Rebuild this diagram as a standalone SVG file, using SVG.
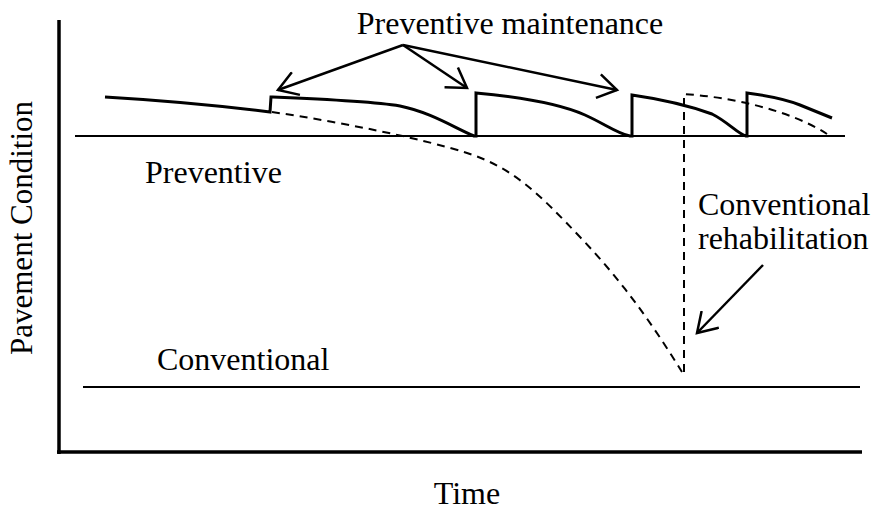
<svg xmlns="http://www.w3.org/2000/svg" width="875" height="510" viewBox="0 0 875 510">
<style>
text{font-family:"Liberation Serif","Times New Roman",serif;font-size:32px;fill:#000}
.ax{stroke:#000;stroke-width:3.5;fill:none}
.ln{stroke:#000;stroke-width:2;fill:none}
.cv{stroke:#000;stroke-width:3;fill:none;stroke-linejoin:miter}
.ds{stroke:#000;stroke-width:2;fill:none;stroke-dasharray:8,6}
.ar{stroke:#000;stroke-width:2.5;fill:none}
</style>
<defs>
<marker id="ah" viewBox="0 0 24 26" refX="21" refY="13" markerWidth="24" markerHeight="26" markerUnits="userSpaceOnUse" orient="auto">
<path d="M2,1 L21,13 L2,25" fill="none" stroke="#000" stroke-width="2.5"/>
</marker>
</defs>
<g id="axes">
<line class="ax" x1="59" y1="20" x2="59" y2="454"/>
<line class="ax" x1="57" y1="452" x2="862" y2="452"/>
</g>
<g id="levels">
<line class="ln" x1="75" y1="136" x2="845" y2="136"/>
<line class="ln" x1="83" y1="387" x2="860" y2="387"/>
</g>
<g id="preventive-curve">
<path class="cv" d="M105,97 Q190,102 270,112 L271,97 C320,99 370,101 400,106 C430,112 455,128 474,136 L476,136 L476,93 C520,97 560,104 585,115 C605,124 618,134 630,136 L632,136 L632,95 C660,99 690,106 712,114 C728,122 738,134 746,136 L747,136 L747,93 C770,96 785,99 800,105 L832,118"/>
</g>
<g id="conventional-curve">
<path class="ds" d="M272,112 C340,122 420,138 467,153 C514,168 540,195 580,237 C620,279 650,320 682,372"/>
<path class="ds" d="M684,372 L684,94 C730,97 790,110 827,134"/>
</g>
<g id="connectors">
<line class="ar" x1="403" y1="45" x2="278" y2="90" marker-end="url(#ah)"/>
<line class="ar" x1="403" y1="45" x2="467" y2="88" marker-end="url(#ah)"/>
<line class="ar" x1="403" y1="45" x2="617" y2="90" marker-end="url(#ah)"/>
<line class="ar" x1="763" y1="265" x2="697" y2="333" marker-end="url(#ah)"/>
</g>
<g id="labels">
<text x="510" y="34" text-anchor="middle">Preventive maintenance</text>
<text x="145" y="183">Preventive</text>
<text x="157" y="370">Conventional</text>
<text x="698" y="215">Conventional</text>
<text x="698" y="249">rehabilitation</text>
<text x="467" y="504" text-anchor="middle">Time</text>
<text transform="translate(32,228) rotate(-90)" text-anchor="middle" style="font-size:31px">Pavement Condition</text>
</g>
</svg>
